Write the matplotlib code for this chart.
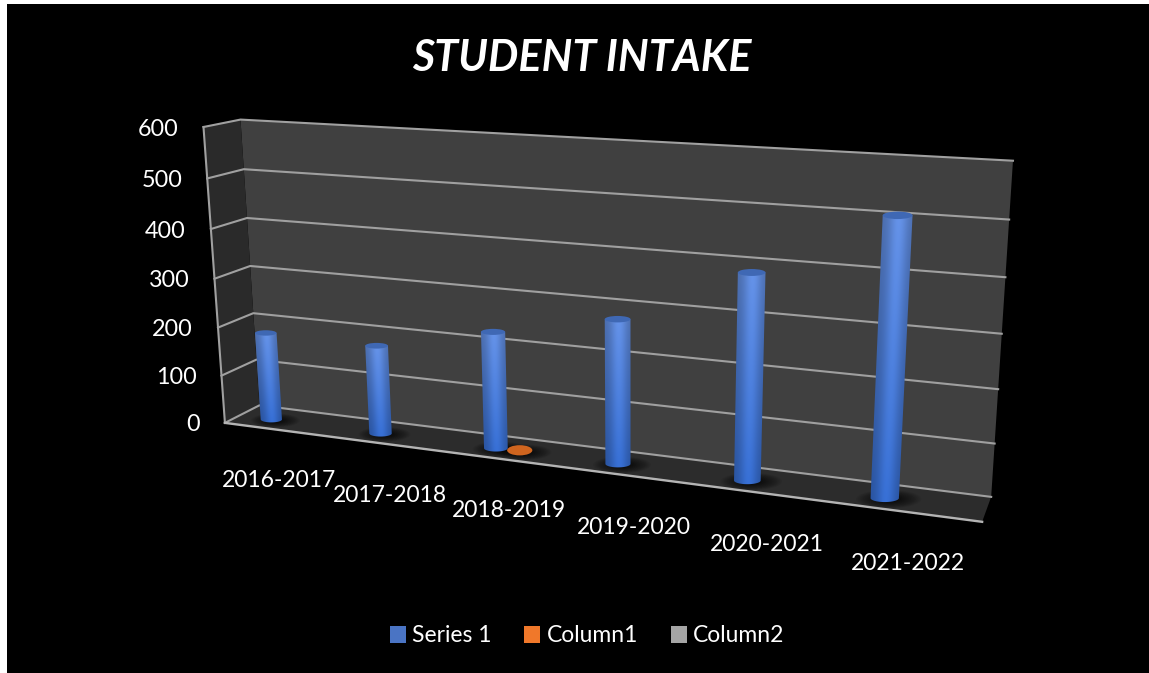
import numpy as np
import matplotlib
matplotlib.use('Agg')
import matplotlib.pyplot as plt
from matplotlib.patches import Polygon, Ellipse, Patch

# Data
categories = ['2016-2017', '2017-2018', '2018-2019', '2019-2020', '2020-2021', '2021-2022']
series_1 = [183, 181, 233, 281, 389, 508]
column_1 = [0, 0, 2, 0, 0, 0]
column_2 = [0, 0, 0, 0, 0, 0]
y_ticks = [0, 100, 200, 300, 400, 500, 600]

W, H = 1149, 673
VMAX = 600
DEPTH = 0.42  # where the columns stand between front and back of the floor

# Box corners in pixels: (category pos, depth, value) -> (px, py)
corners = [
    ((0, 0, 0), (224.3, 422.7)),
    ((0, 0, 600), (204.0, 127.3)),
    ((0, 1, 0), (260.0, 405.5)),
    ((0, 1, 600), (240.0, 119.3)),
    ((6, 1, 0), (991.0, 497.0)),
    ((6, 1, 600), (1013.0, 160.7)),
    ((6, 0, 0), (982.3, 521.7)),
]


def fit_camera(pairs):
    rows = []
    for (x, d, v), (px, py) in pairs:
        p = [x, d, v / VMAX, 1]
        rows.append(p + [0, 0, 0, 0] + [-px * c for c in p])
        rows.append([0, 0, 0, 0] + p + [-py * c for c in p])
    return np.linalg.svd(np.array(rows))[2][-1].reshape(3, 4)


CAM = fit_camera(corners)


def project(x, d, v):
    x, d, v = np.broadcast_arrays(np.asarray(x, float), np.asarray(d, float), np.asarray(v, float))
    p = np.stack([x, d, v / VMAX, np.ones_like(x)], axis=-1) @ CAM.T
    return p[..., 0] / p[..., 2], p[..., 1] / p[..., 2]


def half_width(x0, v, radius):
    return (project(x0 + radius, DEPTH, v)[0] - project(x0 - radius, DEPTH, v)[0]) / 2


def floor_shadow(ax, x0, radius, zorder):
    # blurred shadow on the floor
    bx, by = project(x0, DEPTH, 0)
    rx = half_width(x0, 0, radius)
    for k in np.linspace(1, 0.3, 14):
        shadow = Ellipse((bx + 4, by + 1), 4.6 * rx * k, 1.3 * rx * k, fc='black', ec='none',
                         alpha=0.06, zorder=zorder)
        ax.add_patch(shadow)
        shadow.set_clip_path(floor)


def cylinder(ax, x0, value, radius, zorder):
    floor_shadow(ax, x0, radius, zorder)

    # silhouette: up the left side, down the right side, round the bottom
    z = np.linspace(0, 1, 60)
    cx, cy = project(x0, DEPTH, z * value)
    w = half_width(x0, z * value, radius)
    t = np.linspace(0, np.pi, 40)
    bottom_x = cx[0] + w[0] * np.cos(t)
    bottom_y = cy[0] + 0.28 * w[0] * np.sin(t)
    outline = np.vstack([np.column_stack([cx - w, cy]),
                         np.column_stack([(cx + w)[::-1], cy[::-1]]),
                         np.column_stack([bottom_x, bottom_y])])

    # shading per pixel: brightest a little off centre, lighter towards the top
    left, right = outline[:, 0].min() - 1, outline[:, 0].max() + 1
    top, bot = outline[:, 1].min() - 1, outline[:, 1].max() + 1
    gx, gy = np.meshgrid(np.arange(left, right, 0.5), np.arange(top, bot, 0.5))
    frac = np.interp(gy, cy[::-1], z[::-1])
    axis_x = np.interp(gy, cy[::-1], cx[::-1])
    axis_w = np.interp(gy, cy[::-1], w[::-1])
    u = (gx - axis_x) / axis_w
    shade = 0.74 + 0.26 * np.exp(-((u - 0.05) / 0.65) ** 2)
    base_col = np.array([0.21, 0.42, 0.80])
    top_col = np.array([0.38, 0.55, 0.87])
    rgb = (base_col * (1 - frac[..., None]) + top_col * frac[..., None]) * shade[..., None] * 1.05
    img = ax.imshow(np.clip(rgb, 0, 1), extent=(left, right, bot, top), aspect='auto',
                    interpolation='bilinear', origin='upper', zorder=zorder + 1)
    clip = Polygon(outline, closed=True, transform=ax.transData, fc='none', ec='none')
    ax.add_patch(clip)
    img.set_clip_path(clip)

    # top cap
    tx, ty = project(x0, DEPTH, value)
    tw = half_width(x0, value, radius)
    ax.add_patch(Ellipse((tx, ty), 2 * tw, 0.5 * tw, fc='#3f68b4', ec='none', zorder=zorder + 2))


fig = plt.figure(figsize=(W / 100, H / 100), dpi=100, facecolor='white')
ax = fig.add_axes([0, 0, 1, 1])
plt.rcParams['font.family'] = ['Lato', 'DejaVu Sans']

# black slide behind the chart
ax.add_patch(plt.Rectangle((7, 4), W - 7, H - 4, fc='black', ec='none', zorder=0))

# walls and floor
back = Polygon(np.column_stack(project([0, 6, 6, 0], 1, [0, 0, 600, 600])), fc='#404040', ec='none', zorder=1)
side = Polygon(np.column_stack(project(0, [0, 1, 1, 0], [0, 0, 600, 600])), fc='#2a2a2a', ec='none', zorder=1)
floor = Polygon(np.column_stack(project([0, 6, 6, 0], [0, 0, 1, 1], 0)), fc='#2c2c2c', ec='none', zorder=1)
for p in (back, side, floor):
    ax.add_patch(p)

# gridlines across the back and side walls
for v in y_ticks:
    lx, ly = project([0, 0, 6], [0, 1, 1], v)
    ax.plot(lx, ly, color='#a0a0a0', lw=1.5, zorder=2)
    tick_x, tick_y = project(0, 0, v)
    ax.text(tick_x - 25, tick_y + 2, str(v), color='white', fontsize=16.8, ha='right', va='center', zorder=5)

# outer edges
ex, ey = project(0, 0, [0, 600])
ax.plot(ex, ey, color='#a0a0a0', lw=1.5, zorder=2)
ex, ey = project([0, 6], 0, 0)
ax.plot(ex, ey, color='#b4b4b4', lw=1.7, zorder=2)

# columns, left to right
for i, v in enumerate(series_1):
    cylinder(ax, i + 0.3, v, 0.1, 3 + i * 4)
    if column_1[i] > 0:
        floor_shadow(ax, i + 0.5, 0.1, 3 + i * 4)
        ox, oy = project(i + 0.5, DEPTH, column_1[i])
        ow = half_width(i + 0.5, 0, 0.1)
        ax.add_patch(Ellipse((ox, oy), 2.1 * ow, 0.85 * ow, fc='#d0651f', ec='none', zorder=6 + i * 4))

# category labels under the floor
for i, name in enumerate(categories):
    cx, cy = project(i + 0.5, 0, 0)
    ax.text(cx, cy + 51, name, color='white', fontsize=16.5, ha='center', va='center', zorder=5)

ax.text(582, 58, 'STUDENT INTAKE', color='white', fontsize=31, fontweight='bold', fontstyle='italic',
        ha='center', va='center', zorder=5)

handles = [Patch(fc='#4a74c4', label='Series 1'), Patch(fc='#f0782a', label='Column1'), Patch(fc='#a5a5a5', label='Column2')]
leg = ax.legend(handles=handles, ncol=3, loc='center', bbox_to_anchor=(587 / W, 1 - 636 / H), frameon=False,
                fontsize=16.5, labelcolor='white', handlelength=0.7, handleheight=0.72, handletextpad=0.26,
                columnspacing=1.44, borderpad=0)
leg.set_zorder(30)

ax.set_xlim(0, W)
ax.set_ylim(H, 0)
ax.axis('off')

fig.savefig('out.png', dpi=100, facecolor='white')
